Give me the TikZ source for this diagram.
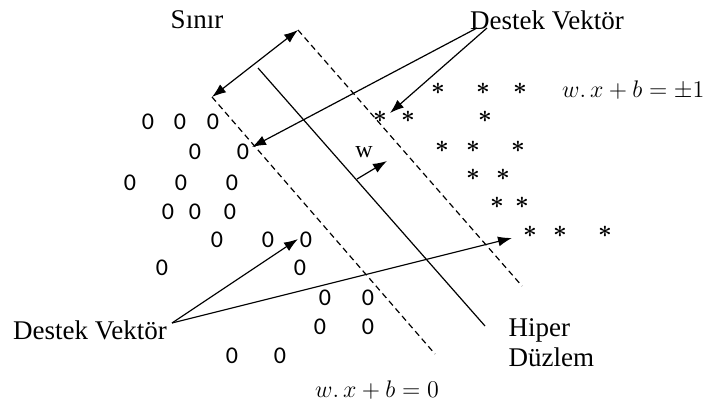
\documentclass[tikz,border=0pt]{standalone}
\usepackage{fontspec}
\setmainfont{Liberation Serif}
\newfontfamily\zerofont{Carlito}
\usetikzlibrary{arrows.meta,positioning}

\begin{document}
\begin{tikzpicture}[x=0.5pt, y=-0.5pt, >={Latex[length=7pt,width=5pt]}, line width=0.6pt,
    lbl/.style={font=\fontsize{13.5}{15}\selectfont, inner sep=0pt},
    eqn/.style={font=\fontsize{12}{14}\selectfont, inner sep=0pt},
    zero/.style={font=\zerofont\fontsize{12}{14}\selectfont, inner sep=0pt},
    star/.style={font=\fontsize{12}{12}\selectfont\boldmath, inner sep=0pt},
    margin/.style={dash pattern=on 3pt off 2pt}]
    \useasboundingbox (0,0) rectangle (708,407);

    % labels
    \node [lbl] (sinir) at (197,20) {Sınır};
    \node [lbl] (dvtop) at (547,20) {Destek Vektör};
    \node [lbl] (dvbot) at (90,330) {Destek Vektör};
    \node [lbl, align=left, anchor=west] (hiper) at (508,343) {Hiper\\Düzlem};
    \node [eqn, anchor=east] (eq1) at (705,90) {$w.\,x+b=\pm1$};
    \node [eqn] (eq0) at (377,390) {$w.\,x+b=0$};
    \node [lbl, font=\fontsize{12}{14}\selectfont] (wlbl) at (364,152) {w};

    % hyperplane and margins
    \coordinate (h1) at (258,68);  \coordinate (h2) at (485,326);
    \coordinate (p1) at (298,30);  \coordinate (p2) at (522,286);
    \coordinate (m1) at (212,97);  \coordinate (m2) at (435,354);
    \draw (h1) -- (h2);
    \draw [margin] (p1) -- (p2);
    \draw [margin] (m1) -- (m2);
    \draw [<->] (m1) -- (p1);

    \coordinate (w0) at (357,179); \coordinate (w1) at (387,161);
    \draw [->] (w0) -- (w1);

    % class 0
    \foreach \x/\y [count=\i] in {148/122,180/122,213/122,195/152,243/152,
        130/183,181/183,232/183,168/212,195/212,230/212,217/240,268/240,306/240,
        162/268,300/268,325/298,368/298,320/327,368/327,232/356,280/356}
        \node [zero] (z\i) at (\x,\y) {0};

    % class *
    \foreach \x/\y [count=\i] in {438/89,483/89,520/89,380/117,408/117,485/117,
        442/147,473/147,518/147,473/175,503/175,497/203,522/203,530/232,560/232,605/232}
        \node [star] (s\i) at (\x,\y) {$\ast$};

    % support vector arrows
    \coordinate (t1) at (477,28);  \coordinate (t2) at (487,28);
    \coordinate (e1) at (252,147); \coordinate (e2) at (390,113);
    \draw [->] (t1) -- (e1);
    \draw [->] (t2) -- (e2);
    \coordinate (b0) at (172,323);
    \coordinate (e3) at (298,239); \coordinate (e4) at (512,238);
    \draw [->] (b0) -- (e3);
    \draw [->] (b0) -- (e4);
\end{tikzpicture}
\end{document}
